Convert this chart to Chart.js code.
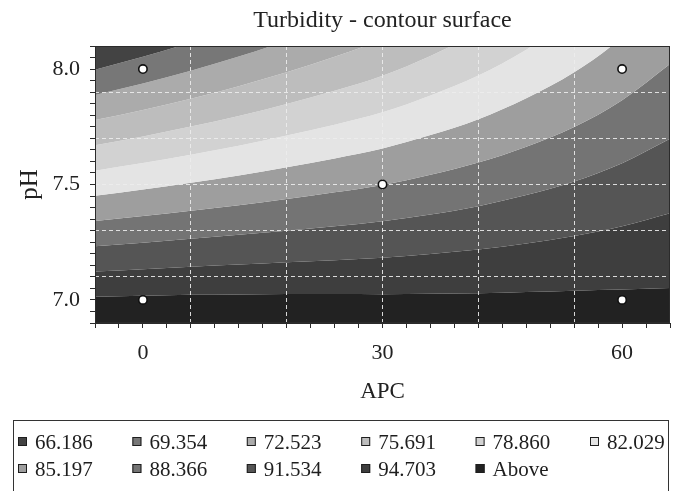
<!DOCTYPE html>
<html>
<head>
<meta charset="utf-8">
<script src="https://cdn.jsdelivr.net/npm/chart.js@4"></script>
<style>
  html, body { margin: 0; padding: 0; background: #ffffff; }
  canvas { display: block; }
</style>
</head>
<body>
<canvas id="chart" width="676" height="491"></canvas>
<script>
// APC positions at which each contour line is sampled
const apc = [-6, 0, 6, 12, 18, 24, 30, 36, 42, 48, 54, 60, 66];

// pH at which turbidity equals each contour level, one array per level
const c66186 = [7.997, 8.053, 8.115, 8.183, 8.260, 8.346, 8.444, 8.573, 8.726, 8.923, 9.168, 9.504, 9.962];
const c69354 = [7.888, 7.938, 7.993, 8.054, 8.123, 8.199, 8.286, 8.401, 8.538, 8.713, 8.932, 9.231, 9.638];
const c72523 = [7.779, 7.823, 7.872, 7.926, 7.986, 8.053, 8.129, 8.229, 8.349, 8.503, 8.695, 8.958, 9.315];
const c75691 = [7.670, 7.708, 7.751, 7.797, 7.849, 7.906, 7.971, 8.057, 8.161, 8.293, 8.459, 8.684, 8.992];
const c78860 = [7.560, 7.593, 7.629, 7.668, 7.712, 7.759, 7.813, 7.886, 7.972, 8.084, 8.222, 8.411, 8.668];
const c82029 = [7.451, 7.478, 7.508, 7.539, 7.575, 7.613, 7.656, 7.714, 7.783, 7.874, 7.986, 8.138, 8.345];
const c85197 = [7.342, 7.363, 7.386, 7.410, 7.437, 7.466, 7.498, 7.542, 7.595, 7.664, 7.749, 7.865, 8.022];
const c88366 = [7.233, 7.248, 7.265, 7.282, 7.300, 7.319, 7.341, 7.370, 7.406, 7.454, 7.513, 7.592, 7.698];
const c91534 = [7.123, 7.133, 7.144, 7.153, 7.163, 7.172, 7.183, 7.199, 7.218, 7.244, 7.277, 7.319, 7.375];
const c94703 = [7.014, 7.018, 7.022, 7.024, 7.026, 7.026, 7.025, 7.027, 7.029, 7.034, 7.040, 7.045, 7.052];

const contourLines = [c66186, c69354, c72523, c75691, c78860, c82029, c85197, c88366, c91534, c94703];

// legend entries (upper bound of each band) and band fills
const levelLabels = ['66.186', '69.354', '72.523', '75.691', '78.860', '82.029',
                     '85.197', '88.366', '91.534', '94.703', 'Above'];
const bandColors = ['#434343', '#777777', '#ababab', '#bdbdbd', '#d2d2d2', '#e4e4e4',
                    '#9e9e9e', '#747474', '#555555', '#3e3e3e', '#222222'];

// experimental design points
const designAPC = [0, 0, 30, 60, 60];
const designPH  = [7.0, 8.0, 7.5, 7.0, 8.0];

// axis ticks, labels and grid positions
const xTickLabels = [0, 30, 60];
const yTickLabels = [7.0, 7.5, 8.0];
const xGridAt = [6, 18, 30, 42, 54];
const yGridAt = [7.1, 7.3, 7.5, 7.7, 7.9];
const xRange = [-6, 66], xMinorStep = 3;
const yRange = [6.9, 8.1], yMinorStep = 0.05;

const SERIF = '"Liberation Serif", "Times New Roman", serif';
const near = (list, v) => list.some(t => Math.abs(t - v) < 1e-6);

const toPoints = ys => apc.map((a, i) => ({ x: a, y: ys[i] }));

const bandSets = levelLabels.map((label, i) => ({
  type: 'line',
  label,
  data: toPoints(contourLines[Math.min(i, contourLines.length - 1)]),
  backgroundColor: bandColors[i],
  borderWidth: 0,
  pointRadius: 0,
  cubicInterpolationMode: 'monotone',
  fill: i === 0 ? 'end' : (i === levelLabels.length - 1 ? 'start' : '-1')
}));

const pointSet = {
  type: 'scatter',
  label: 'design points',
  data: designAPC.map((x, i) => ({ x, y: designPH[i] })),
  pointRadius: 4.2,
  pointBackgroundColor: '#ffffff',
  pointBorderColor: '#111111',
  pointBorderWidth: 1.6
};
const pointIndex = bandSets.length;

// frame round the plot, design points above the grid, boxed legend underneath
const contourExtras = {
  id: 'contourExtras',
  afterDraw(chart) {
    const { ctx, chartArea: a } = chart;
    ctx.save();
    ctx.strokeStyle = '#2b2b2b';
    ctx.lineWidth = 1;
    ctx.strokeRect(a.left + 0.5, a.top + 0.5, a.right - a.left - 1, a.bottom - a.top - 1);
    ctx.lineWidth = 2;
    ctx.beginPath();
    ctx.moveTo(a.left, a.bottom);
    ctx.lineTo(a.right, a.bottom);
    ctx.stroke();

    chart.getDatasetMeta(pointIndex).data.forEach(p => p.draw(ctx, a));

    // legend
    ctx.lineWidth = 1;
    ctx.strokeStyle = '#333333';
    ctx.strokeRect(13.5, 420.5, 655, 100);
    ctx.font = '21px ' + SERIF;
    ctx.textBaseline = 'middle';
    ctx.textAlign = 'left';
    chart.data.datasets.forEach((ds, i) => {
      if (i >= bandSets.length) return;
      const col = i % 6, row = Math.floor(i / 6);
      const x = 18 + col * 114.4, y = 442 + row * 27;
      ctx.fillStyle = ds.backgroundColor;
      ctx.fillRect(x, y - 5, 9, 9);
      ctx.strokeStyle = '#1e1e1e';
      ctx.strokeRect(x + 0.5, y - 4.5, 8, 8);
      ctx.fillStyle = '#1e1e1e';
      ctx.fillText(ds.label, x + 17, y + 1);
    });
    ctx.restore();
  }
};

new Chart(document.getElementById('chart'), {
  type: 'line',
  data: { datasets: [...bandSets, pointSet] },
  options: {
    responsive: false,
    animation: false,
    devicePixelRatio: 1,
    layout: { padding: { left: 0, right: 6, top: 0, bottom: 78 } },
    plugins: {
      legend: { display: false },
      tooltip: { enabled: false },
      title: {
        display: true,
        fullSize: false,
        text: 'Turbidity - contour surface',
        color: '#222222',
        font: { family: SERIF, size: 24, weight: 'normal' },
        padding: { top: 6, bottom: 11.2 }
      },
      filler: { propagate: false }
    },
    scales: {
      x: {
        type: 'linear',
        min: xRange[0], max: xRange[1],
        afterBuildTicks: s => {
          const t = [];
          for (let v = xRange[0]; v <= xRange[1] + 1e-9; v += xMinorStep) t.push({ value: v });
          s.ticks = t;
        },
        afterFit: s => { s.height = 90; s.paddingLeft = 0; s.paddingRight = 0; },
        ticks: {
          autoSkip: false, maxRotation: 0, padding: 12,
          color: '#222222',
          font: { family: SERIF, size: 22 },
          callback: v => (near(xTickLabels, v) ? String(Math.round(v)) : '')
        },
        grid: {
          z: 1,
          color: c => (c.tick && near(xGridAt, c.tick.value) ? 'rgba(236,236,236,0.9)' : 'rgba(0,0,0,0)'),
          lineWidth: 1,
          tickColor: '#2b2b2b',
          tickLength: 5
        },
        border: { display: false, dash: [4, 3] },
        title: {
          display: true, text: 'APC', color: '#222222',
          font: { family: SERIF, size: 23 },
          padding: { top: 0, bottom: 7 }
        }
      },
      y: {
        type: 'linear',
        min: yRange[0], max: yRange[1],
        afterBuildTicks: s => {
          const t = [];
          const n = Math.round((yRange[1] - yRange[0]) / yMinorStep);
          for (let i = 0; i <= n; i++) t.push({ value: Math.round((yRange[0] + i * yMinorStep) * 100) / 100 });
          s.ticks = t;
        },
        afterFit: s => { s.width = 95; s.paddingTop = 0; s.paddingBottom = 0; },
        ticks: {
          autoSkip: false, padding: 10,
          color: '#222222',
          font: { family: SERIF, size: 22 },
          callback: v => (near(yTickLabels, v) ? Number(v).toFixed(1) : '')
        },
        grid: {
          z: 1,
          color: c => (c.tick && near(yGridAt, c.tick.value) ? 'rgba(236,236,236,0.9)' : 'rgba(0,0,0,0)'),
          lineWidth: 1,
          tickColor: '#2b2b2b',
          tickLength: 5
        },
        border: { display: false, dash: [4, 3] },
        title: {
          display: true, text: 'pH', color: '#222222',
          font: { family: SERIF, size: 25 },
          padding: { top: 15, bottom: 0 }
        }
      }
    }
  },
  plugins: [contourExtras]
});
</script>
</body>
</html>
